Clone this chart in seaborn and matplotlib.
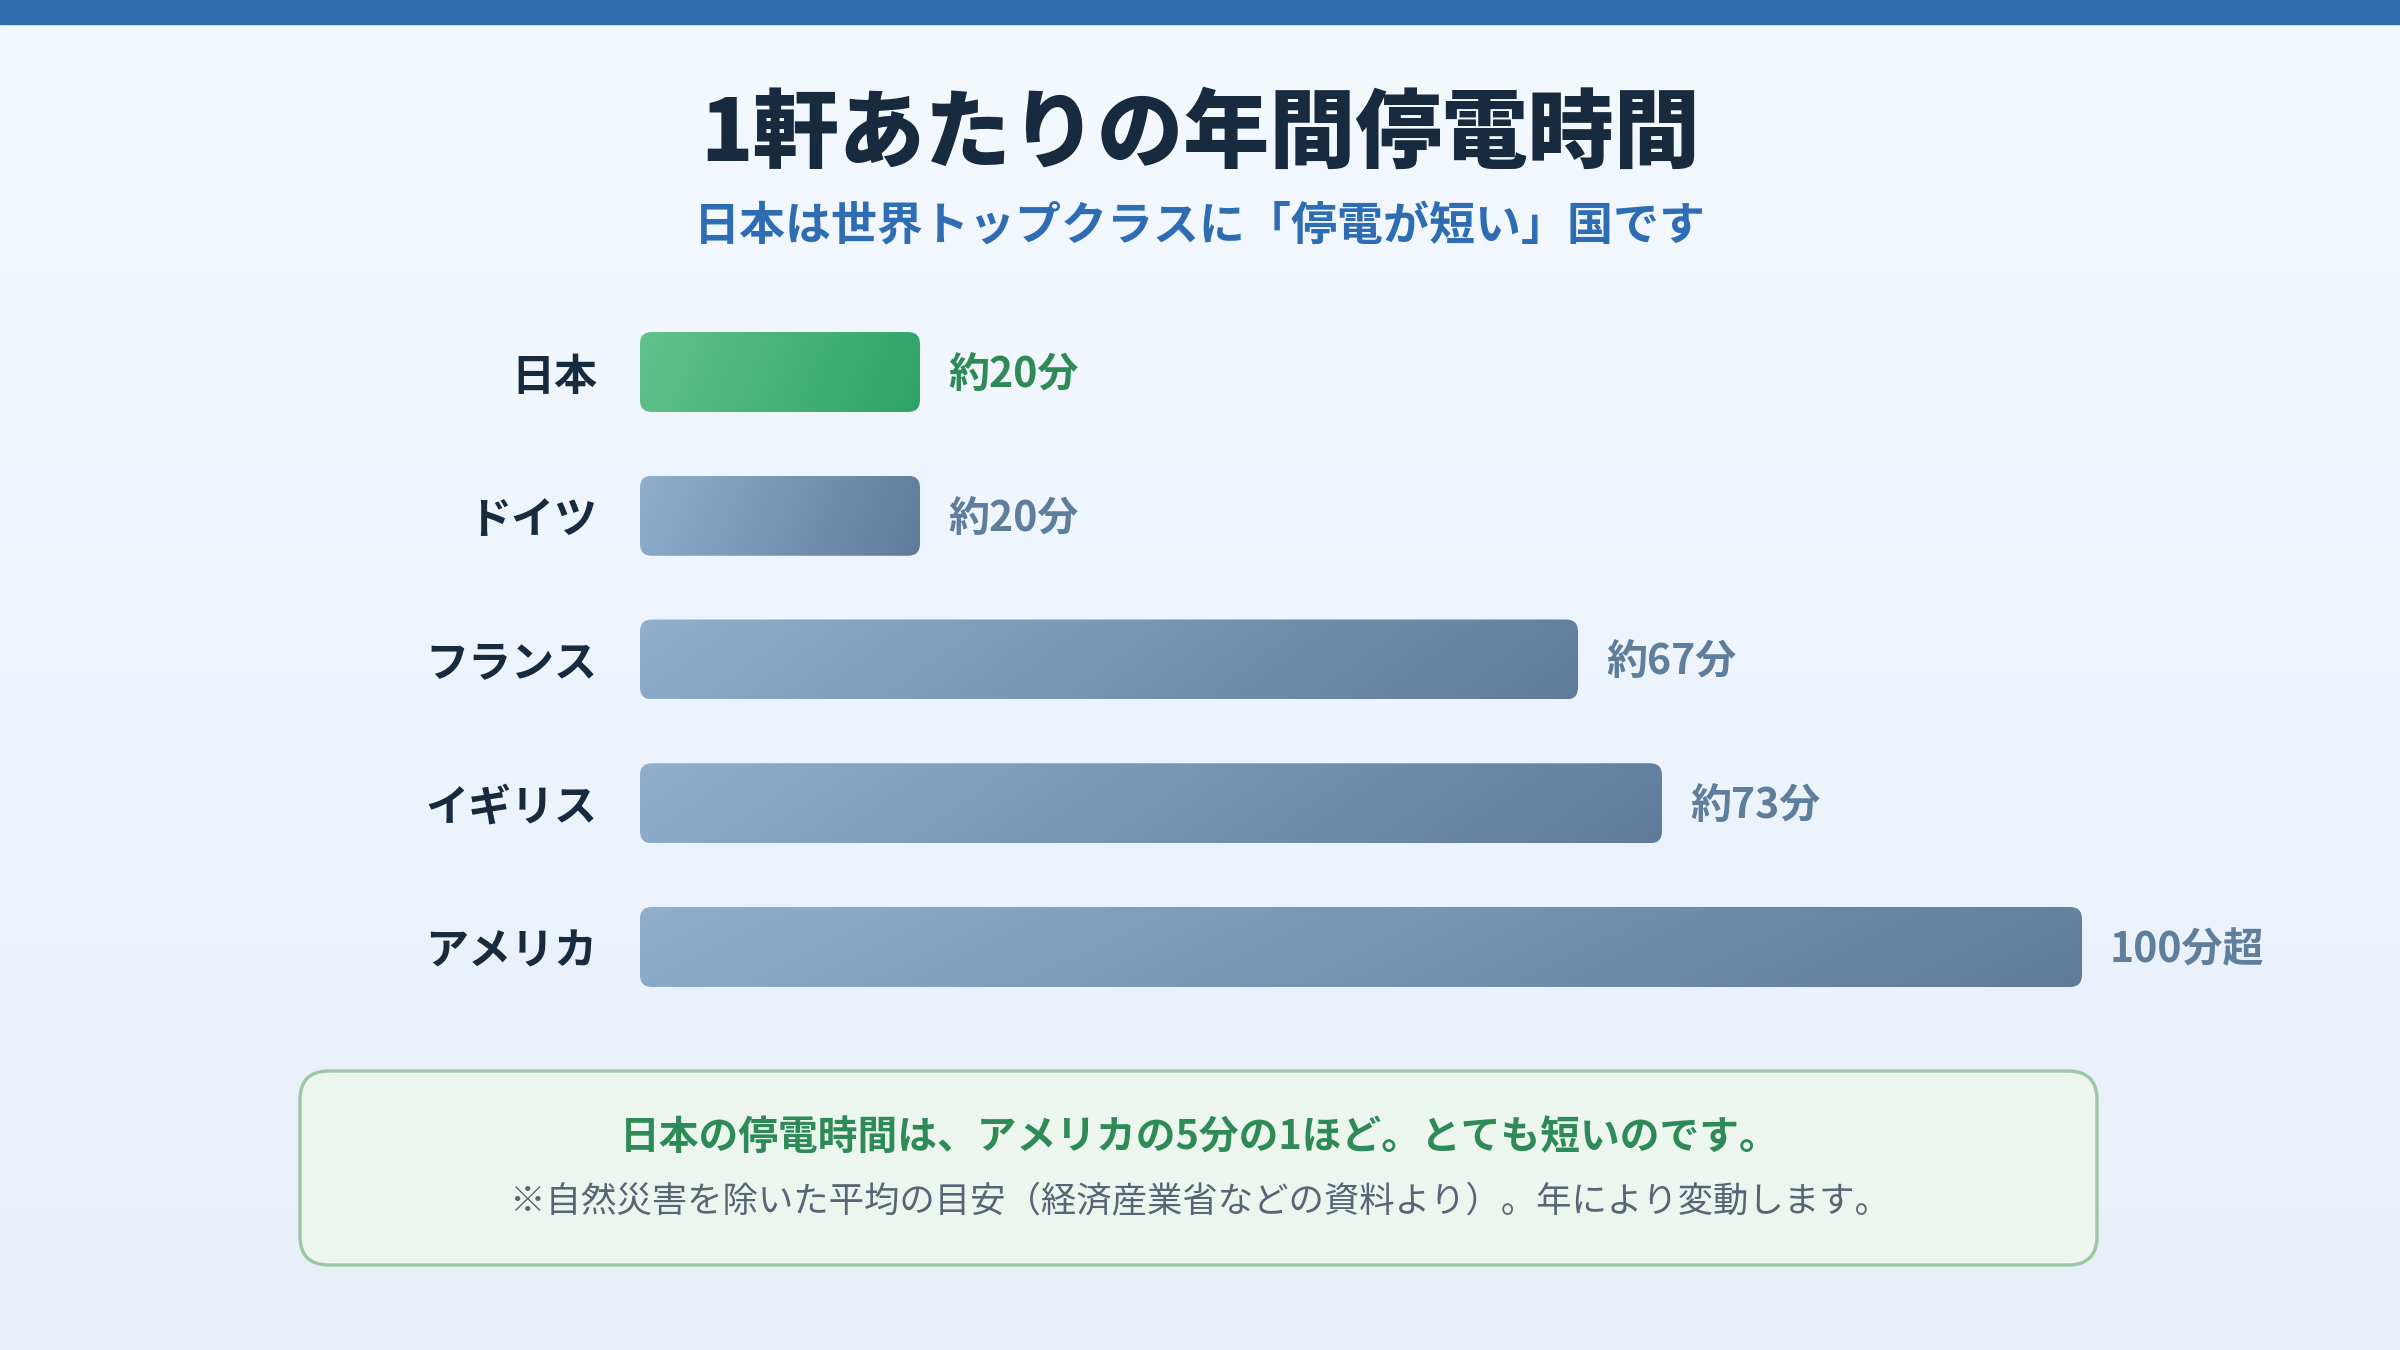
import numpy as np
import pandas as pd
import matplotlib
matplotlib.use("Agg")
import matplotlib.pyplot as plt
import seaborn as sns
from matplotlib.patches import Rectangle, FancyBboxPatch
from matplotlib.colors import LinearSegmentedColormap
from matplotlib.transforms import IdentityTransform

# ---- data ----
countries = ["日本", "ドイツ", "フランス", "イギリス", "アメリカ"]
minutes = [20, 20, 67, 73, 103]
value_labels = ["約20分", "約20分", "約67分", "約73分", "100分超"]
title = "1軒あたりの年間停電時間"
subtitle = "日本は世界トップクラスに「停電が短い」国です"
note_main = "日本の停電時間は、アメリカの5分の1ほど。とても短いのです。"
note_sub = "※自然災害を除いた平均の目安（経済産業省などの資料より）。年により変動します。"

# ---- style ----
sns.set_theme(style="white")
plt.rcParams["font.family"] = ["Noto Sans CJK JP", "DejaVu Sans"]

W, H = 2400, 1350
fig = plt.figure(figsize=(24, 13.5), dpi=100)

# background gradient
bg = fig.add_axes([0, 0, 1, 1], zorder=-10)
bg_cmap = LinearSegmentedColormap.from_list("bg", ["#f4f9fe", "#e8eff9"])
bg.imshow(np.linspace(0, 1, 256).reshape(-1, 1), aspect="auto", cmap=bg_cmap,
          extent=[0, 1, 0, 1], origin="upper")
bg.set_xlim(0, 1); bg.set_ylim(0, 1)
bg.axis("off")

# top band
fig.patches.append(Rectangle((0, 1 - 24 / H), 1, 24 / H, transform=fig.transFigure,
                             color="#2e6eae", zorder=5))

# title / subtitle
fig.text(0.5, 1 - 136 / H, title, ha="center", va="center", fontsize=62,
         fontweight="heavy", color="#172a3e")
fig.text(0.5, 1 - 227 / H, subtitle, ha="center", va="center", fontsize=33.1,
         fontweight="bold", color="#2f6db3")

# main axes
px_per_min = 14.0
xmax = 110
left_px = 640
c_top, c_bot = 372, 947
step = (c_bot - c_top) / (len(countries) - 1)
ax_top = c_top - step / 2
ax_bot = c_bot + step / 2
ax = fig.add_axes([left_px / W, 1 - ax_bot / H, xmax * px_per_min / W, (ax_bot - ax_top) / H])
ax.patch.set_alpha(0)

df = pd.DataFrame({"country": countries, "minutes": minutes})
sns.barplot(data=df, x="minutes", y="country", orient="h", width=80 / step,
            color="#8eaecd", ax=ax)
ax.set_xlim(0, xmax)
ax.set_ylim(len(countries) - 0.5, -0.5)
for s in ax.spines.values():
    s.set_visible(False)
ax.set_xticks([])
ax.set_xlabel("")
ax.set_ylabel("")
ax.tick_params(axis="y", length=0, pad=31)
for lab in ax.get_yticklabels():
    lab.set_fontsize(31)
    lab.set_fontweight("bold")
    lab.set_color("#172a3e")

green_cmap = LinearSegmentedColormap.from_list("g", ["#62c28b", "#2ea366"])
slate_cmap = LinearSegmentedColormap.from_list("s", ["#8fafcd", "#5e7c99"])

gx = np.linspace(0, 1, 300)
gy = np.linspace(0, 1, 40)
GX, GY = np.meshgrid(gx, gy)
grad = np.clip(GX * 0.9 + GY * 0.1, 0, 1)

dy_txt = 3 / step  # small downward nudge for value labels (data units)
patches = list(ax.patches)
for i, p in enumerate(patches):
    x0, y0 = p.get_x(), p.get_y()
    w, h = p.get_width(), p.get_height()
    p.set_visible(False)
    (dx0, dy0) = ax.transData.transform((x0, y0 + h))
    (dx1, dy1) = ax.transData.transform((x0 + w, y0))
    clip = FancyBboxPatch((dx0, dy0), dx1 - dx0, dy1 - dy0,
                          boxstyle="round,pad=0,rounding_size=12",
                          transform=IdentityTransform())
    cmap = green_cmap if i == 0 else slate_cmap
    im = ax.imshow(grad, extent=[x0, x0 + w, y0 + h, y0], aspect="auto", cmap=cmap,
                   origin="upper", zorder=3, interpolation="bilinear")
    im.set_clip_path(clip)
    color = "#2e8b57" if i == 0 else "#5f7e9b"
    ax.text(x0 + w + 28 / px_per_min, y0 + h / 2 + dy_txt, value_labels[i], ha="left",
            va="center", fontsize=29.5, fontweight="bold", color=color, zorder=4)

ax.set_xlim(0, xmax)
ax.set_ylim(len(countries) - 0.5, -0.5)

# note box
bx0, bx1, by0, by1 = 300, 2097, 1071, 1265
box = FancyBboxPatch((bx0 / W, 1 - by1 / H), (bx1 - bx0) / W, (by1 - by0) / H,
                     boxstyle="round,pad=0,rounding_size=0.012",
                     mutation_aspect=W / H,
                     transform=fig.transFigure, facecolor="#edf6ee",
                     edgecolor="#9bc8a2", linewidth=2.4, zorder=1)
fig.patches.append(box)
fig.text(0.5, 1 - 1137 / H, note_main, ha="center", va="center", fontsize=28.6,
         fontweight="bold", color="#2e8b57")
fig.text(0.5, 1 - 1202 / H, note_sub, ha="center", va="center", fontsize=25.5,
         color="#5a6475")

fig.savefig("out.png", dpi=100)
